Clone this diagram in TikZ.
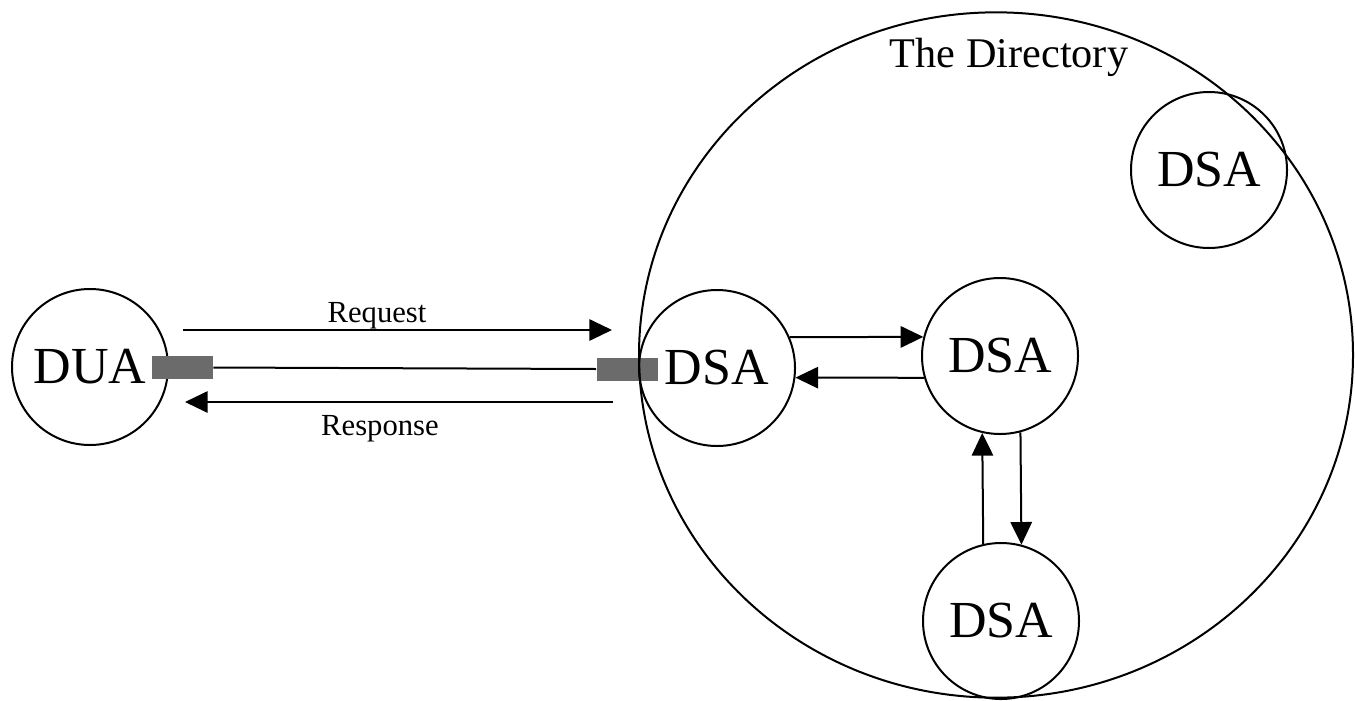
\documentclass[tikz,border=0pt]{standalone}
\usepackage{fontspec}
\setmainfont{Liberation Serif}
\usetikzlibrary{arrows.meta,shapes.geometric}
\definecolor{portgray}{HTML}{6B6B6B}
\tikzset{
  agent/.style={draw, circle, line width=1.5pt, inner sep=0pt, minimum size=117pt,
                font=\fontsize{39}{39}\selectfont},
  port/.style={fill=portgray, inner sep=0pt, minimum width=45.75pt, minimum height=17.25pt},
  link/.style={line width=1.5pt},
  flow/.style={line width=1.5pt, -{Triangle[length=17pt, width=16pt]}},
  lbl/.style={font=\fontsize{23}{23}\selectfont, anchor=base, inner sep=0pt},
}
\begin{document}
\begin{tikzpicture}[x=0.75pt, y=-0.75pt]
  \useasboundingbox (0,0) rectangle (1355,700);

  % port of the directory-side DSA (drawn under the circles)
  \node[port] (dsaport) at (627,369) {};

  % the directory boundary
  \node[draw, ellipse, line width=1.5pt, inner sep=0pt,
        minimum width=535.5pt, minimum height=514pt] (dir) at (996,355) {};
  \node[font=\fontsize{31.7}{31.7}\selectfont, anchor=base, inner sep=0pt] (dirlabel) at (1009,67) {The Directory};

  % agents
  \node[agent] (dua) at (90,367) {DUA};
  \node[agent] (dsa1) at (717,368) {DSA};
  \node[agent] (dsa2) at (1000,356) {DSA};
  \node[agent] (dsa3) at (1001,621) {DSA};
  \node[agent] (dsa4) at (1209,170) {DSA};

  % port of the DUA (drawn over its circle)
  \node[port] (duaport) at (182.5,367.5) {};

  % access line between the two ports
  \draw[link] (duaport.east) -- (dsaport.west);

  % request / response
  \coordinate (reqA) at (183,330);
  \coordinate (reqB) at (612,330);
  \coordinate (resA) at (613,402);
  \coordinate (resB) at (185,402);
  \draw[flow] (reqA) -- (reqB);
  \draw[flow] (resA) -- (resB);
  \node[lbl] (reqlbl) at (377,322) {Request};
  \node[lbl] (reslbl) at (380,435) {Response};

  % chaining between DSAs
  \draw[flow] (dsa1.23) -- (dsa2.166);
  \draw[flow] (dsa2.196.4) -- (dsa1.-7.4);
  \draw[flow] (dsa3.103.3) -- (dsa2.257.4);
  \draw[flow] (dsa2.285.6) -- (dsa3.75.2);
\end{tikzpicture}
\end{document}
